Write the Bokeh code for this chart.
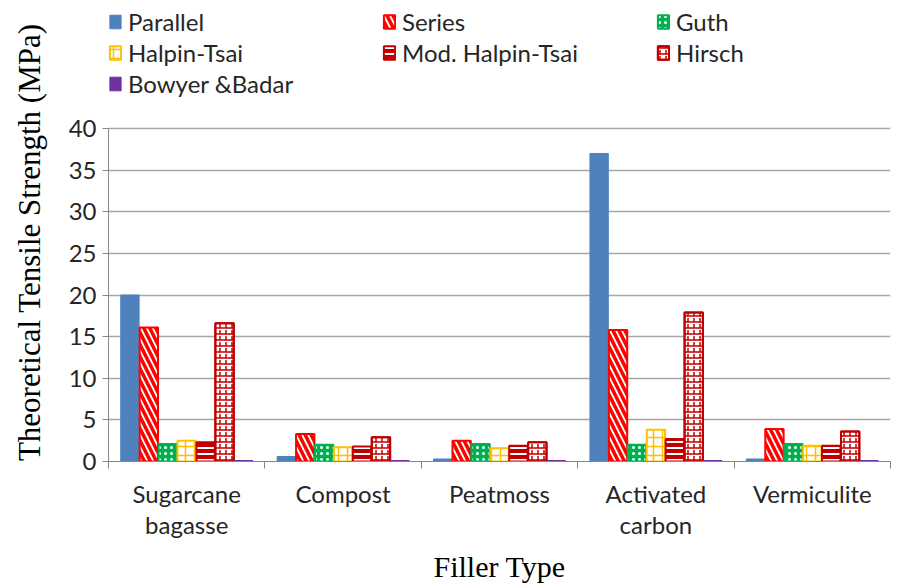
import math
from bokeh.plotting import figure
from bokeh.models import (Range1d, FixedTicker, Legend, LegendItem, ColumnDataSource)
from bokeh.embed import file_html
from bokeh.resources import INLINE

categories = ["Sugarcane\nbagasse", "Compost", "Peatmoss", "Activated\ncarbon", "Vermiculite"]
series_names = ["Parallel", "Series", "Guth", "Halpin-Tsai", "Mod. Halpin-Tsai", "Hirsch", "Bowyer &Badar"]
parallel = [20.0, 0.6, 0.3, 37.0, 0.3]
series = [16.1, 3.3, 2.5, 15.8, 3.9]
guth = [2.1, 2.0, 2.1, 2.0, 2.1]
halpin_tsai = [2.5, 1.7, 1.6, 3.8, 1.9]
mod_halpin_tsai = [2.3, 1.8, 1.9, 2.7, 1.9]
hirsch = [16.6, 2.9, 2.3, 17.9, 3.6]
bowyer_badar = [0.12, 0.12, 0.12, 0.12, 0.12]
y_ticks = [0, 5, 10, 15, 20, 25, 30, 35, 40]
y_max = 40

values = [parallel, series, guth, halpin_tsai, mod_halpin_tsai, hirsch, bowyer_badar]

BW = 0.121
# frame spans from the legend row down to 0; the axis itself is bounded to 0..40
p = figure(width=893, height=586, output_backend="svg", toolbar_location=None,
           x_range=Range1d(0, 5), y_range=Range1d(0, y_max * 454 / 333),
           min_border_left=108, min_border_top=7, min_border_bottom=125, min_border_right=3)
p.outline_line_color = None
p.background_fill_color = "white"

styles = [
    dict(fill_color="#4F81BD", line_color="#4F81BD"),
    dict(fill_color="white", line_color="#FF0000", line_width=2, hatch_pattern="\\", hatch_color="#FF0000", hatch_weight=3.5, hatch_scale=12),
    dict(fill_color="#00B050", line_color="#00B050", line_width=2, hatch_pattern="dot", hatch_color="white", hatch_weight=3, hatch_scale=6),
    dict(fill_color="white", line_color="#FFC000", line_width=2, hatch_pattern="+", hatch_color="#FFC000", hatch_weight=1.5, hatch_scale=9),
    dict(fill_color="#C00000", line_color="#C00000", line_width=2, hatch_pattern="-", hatch_color="white", hatch_weight=2, hatch_scale=6),
    dict(fill_color="white", line_color="#C00000", line_width=2, hatch_pattern="-", hatch_color="#C00000", hatch_weight=1.5, hatch_scale=6),
    dict(fill_color="#7030A0", line_color="#7030A0"),
]

items = []
for k, (name, vals, st) in enumerate(zip(series_names, values, styles)):
    xs = [i + 0.5 + (k - 3) * BW for i in range(len(categories))]
    src = ColumnDataSource(dict(x=xs, top=vals))
    r = p.vbar(x="x", top="top", width=BW * 0.97, bottom=0, source=src, **st)
    rs = [r]
    if name == "Hirsch":
        r2 = p.vbar(x="x", top="top", width=BW * 0.97, bottom=0, source=src, fill_color=None,
                    line_color="#C00000", line_width=2, hatch_pattern="vertical_dash",
                    hatch_color="#C00000", hatch_weight=1.5, hatch_scale=6)
        rs.append(r2)
    items.append(LegendItem(label=name, renderers=rs))

legend = Legend(items=items, ncols=3, location="top_left", orientation="horizontal",
                border_line_color=None, background_fill_alpha=0,
                label_text_font="Lato", label_text_font_size="24px", label_text_color="#262626",
                glyph_width=14, glyph_height=17, label_height=22, label_width=252,
                spacing=2, padding=0, margin=0, label_standoff=6)
p.add_layout(legend, "center")

# axes
p.yaxis.bounds = (0, y_max)
p.yaxis.ticker = FixedTicker(ticks=y_ticks)
p.yaxis.major_label_text_font = "Lato"
p.yaxis.major_label_text_font_size = "24px"
p.yaxis.major_label_text_color = "#262626"
p.yaxis.axis_line_color = "#868686"
p.yaxis.major_tick_line_color = "#868686"
p.yaxis.major_tick_out = 6
p.yaxis.major_tick_in = 0
p.yaxis.minor_tick_line_color = None
p.yaxis.major_label_standoff = 6
p.yaxis.axis_label = "Theoretical Tensile Strength (MPa)" + "\u00a0" * 2
p.yaxis.axis_label_text_font = "Liberation Serif"
p.yaxis.axis_label_text_font_style = "normal"
p.yaxis.axis_label_text_font_size = "31px"
p.yaxis.axis_label_text_color = "#000000"
p.yaxis.axis_label_standoff = 19

p.xaxis.ticker = FixedTicker(ticks=[i + 0.5 for i in range(len(categories))],
                             minor_ticks=list(range(len(categories) + 1)))
p.xaxis.major_label_overrides = {i + 0.5: c for i, c in enumerate(categories)}
p.xaxis.major_label_text_font = "Lato"
p.xaxis.major_label_text_font_size = "24px"
p.xaxis.major_label_text_line_height = 1.1
p.xaxis.major_label_text_color = "#262626"
p.xaxis.major_tick_line_color = None
p.xaxis.minor_tick_line_color = "#868686"
p.xaxis.minor_tick_out = 7
p.xaxis.minor_tick_in = 0
p.xaxis.axis_line_color = "#868686"
p.xaxis.major_label_standoff = 10
p.xaxis.axis_label = "Filler Type"
p.xaxis.axis_label_text_font = "Liberation Serif"
p.xaxis.axis_label_text_font_style = "normal"
p.xaxis.axis_label_text_font_size = "30px"
p.xaxis.axis_label_text_line_height = 1.0
p.xaxis.axis_label_text_color = "#000000"
p.xaxis.axis_label_standoff = 8

p.xgrid.grid_line_color = None
p.ygrid.ticker = FixedTicker(ticks=y_ticks)
p.ygrid.grid_line_color = "#A6A6A6"
p.ygrid.grid_line_width = 1.5

open("out.html", "w").write(file_html(p, INLINE))
